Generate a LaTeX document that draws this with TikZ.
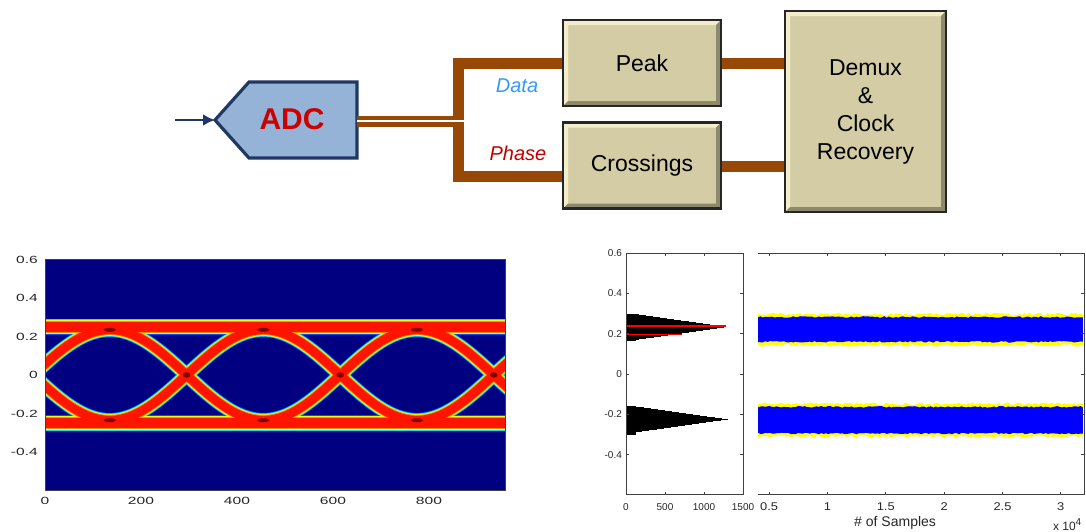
\documentclass[tikz,border=0pt]{standalone}
\usepackage{tikz}
\usetikzlibrary{positioning,arrows.meta,calc}
\usepackage{graphicx}
\usepackage{fontspec}
\setmainfont{Liberation Sans}

\definecolor{adcfill}{HTML}{95B3D7}
\definecolor{adcline}{HTML}{1F3864}
\definecolor{adcred}{HTML}{CC0000}
\definecolor{wirebrown}{HTML}{974806}
\definecolor{boxtan}{HTML}{D3CCA5}
\definecolor{bevlight}{HTML}{F3EDCB}
\definecolor{bevdark}{HTML}{8E896C}
\definecolor{datablue}{HTML}{3399FF}
\definecolor{phasered}{HTML}{C00000}
\definecolor{eyebg}{HTML}{000080}
\definecolor{jetb}{HTML}{0050FF}
\definecolor{jetc}{HTML}{00E8FF}
\definecolor{jety}{HTML}{E8FF10}
\definecolor{jeto}{HTML}{FF9000}
\definecolor{jetr}{HTML}{FF1400}
\definecolor{jetd}{HTML}{800000}
\definecolor{smpblue}{HTML}{0000FF}
\definecolor{smpyellow}{HTML}{FFFF00}

\newcommand{\wlab}[1]{\scalebox{1.5}[1]{#1}}
\newcommand{\slab}[1]{\scalebox{1.15}[1]{#1}}

\begin{document}
\begin{tikzpicture}[x=0.5pt, y=-0.5pt,
    blk/.style={draw=black!85, line width=1.2pt, fill=boxtan, align=center,
        font=\fontsize{11.5}{14}\selectfont,
        path picture={
            \fill[bevlight] (path picture bounding box.north west) -- (path picture bounding box.north east)
                -- ([shift={(-2.5pt,-2.5pt)}]path picture bounding box.north east)
                -- ([shift={(2.5pt,-2.5pt)}]path picture bounding box.north west)
                -- ([shift={(2.5pt,2.5pt)}]path picture bounding box.south west)
                -- (path picture bounding box.south west) -- cycle;
            \fill[bevdark] (path picture bounding box.south east) -- (path picture bounding box.south west)
                -- ([shift={(2.5pt,2.5pt)}]path picture bounding box.south west)
                -- ([shift={(-2.5pt,2.5pt)}]path picture bounding box.south east)
                -- ([shift={(-2.5pt,-2.5pt)}]path picture bounding box.north east)
                -- (path picture bounding box.north east) -- cycle;
        }},
    wire/.style={draw=wirebrown, line width=5.5pt},
    adcshape/.style={draw=adcline, fill=adcfill, line width=1.6pt, line join=miter},
    inarrow/.style={draw=adcline, line width=1.4pt, -{Latex[length=6pt,width=6pt]}},
    eyelab/.style={font=\fontsize{5.2}{6}\selectfont, text=black!85, inner sep=0.5pt},
    histlab/.style={font=\fontsize{5}{6}\selectfont, text=black!85, inner sep=0.5pt},
    axframe/.style={draw=black!75, line width=0.5pt}
    ]
    \useasboundingbox (0,0) rectangle (1086,531);

    % block diagram
    \coordinate (in) at (175,120);
    \coordinate (adctip) at (215,120);
    \coordinate (adcout) at (357,121);
    \coordinate (split) at (458.5,121);
    \draw[adcshape] (adctip) -- (249,82) -- (357,82) -- (357,158) -- (249,158) -- cycle;
    \node[font=\fontsize{15}{18}\selectfont\bfseries, text=adcred] (adc) at (292,119) {ADC};
    \draw[inarrow] (in) -- (adctip);

    \node[blk, minimum width=79pt, minimum height=43pt] (peak) at (642,63) {Peak};
    \node[blk, minimum width=79pt, minimum height=43pt] (cross) at (642,165.5) {Crossings};
    \node[blk, minimum width=80.5pt, minimum height=100.5pt] (demux) at (865.5,111.5) {Demux\\\&\\Clock\\Recovery};

    \draw[wire] (adcout) -- (split);
    \draw[wire] (split) |- (peak.west);
    \draw[wire] (split) |- ([yshift=-5.5pt]cross.west);
    \draw[white, line width=1pt] (adcout) -- ([xshift=2.8pt]split);
    \draw[wire] (peak.east) -- (peak.east -| demux.west);
    \draw[wire] ([yshift=-0.5pt]cross.east) -- ([yshift=-0.5pt]cross.east -| demux.west);

    \node[font=\fontsize{10}{12}\selectfont\itshape, text=datablue] (datalab) at (517,86) {Data};
    \node[font=\fontsize{10}{12}\selectfont\itshape, text=phasered] (phaselab) at (518,153) {Phase};

    % eye diagram
    \begin{scope}[shift={(45,375)}, xscale=0.48, yscale=-192.5]
        \begin{scope}
            \clip (0,-0.6) rectangle (960,0.6);
            \fill[eyebg] (0,-0.6) rectangle (960,0.6);
            \foreach \col/\lw in {jetb/8pt, jetc/7.4pt, jety/6.7pt, jeto/5.9pt, jetr/5pt} {
                \draw[draw=\col, line width=\lw] (-20,0.25) -- (980,0.25) (-20,-0.25) -- (980,-0.25);
                \foreach \st in {-185,135,455,775}
                    \draw[draw=\col, line width=\lw-0.6pt]
                        plot[domain=0:320, samples=41, smooth] ({\st+\x},{0.235*cos(0.5625*\x)})
                        plot[domain=0:320, samples=41, smooth] ({\st+\x},{-0.235*cos(0.5625*\x)});
            }
            \foreach \px/\py in {135/0.235, 455/0.235, 775/0.235, 135/-0.235, 455/-0.235, 775/-0.235}
                \fill[jetd] (\px,\py) ellipse [x radius=13, y radius=0.01];
            \foreach \px in {295,615,935}
                \fill[jetd] (\px,0) ellipse [x radius=8, y radius=0.014];
        \end{scope}
        \draw[axframe] (0,-0.6) rectangle (960,0.6);
        \foreach \tv [count=\i] in {0.6,0.4,0.2,0,-0.2,-0.4}
            \node[eyelab, anchor=east] (eyl\i) at (-12,\tv) {\wlab{\tv}};
        \foreach \tv [count=\i] in {0,200,400,600,800}
            \node[eyelab] (exl\i) at (\tv,-0.655) {\wlab{\tv}};
    \end{scope}

    % histograms
    \begin{scope}[shift={(626,374)}, xscale=0.078, yscale=-201.5]
        \foreach \k in {0,...,26} {
            \pgfmathsetmacro\hv{0.162+0.005*\k}
            \pgfmathsetmacro\hw{max(130,1300*(1-abs(\hv+0.0025-0.232)/0.072))}
            \fill[black] (0,\hv) rectangle (\hw,\hv+0.005);
        }
        \foreach \k in {0,...,28} {
            \pgfmathsetmacro\hv{-0.303+0.005*\k}
            \pgfmathsetmacro\hw{max(130,1310*(1-abs(\hv+0.0025+0.225)/0.072))}
            \fill[black] (0,\hv) rectangle (\hw,\hv+0.005);
        }
        \draw[red, line width=0.6pt] (0,0.238) -- (1280,0.238) (0,0.197) -- (720,0.197);
        \draw[axframe] (0,-0.6) rectangle (1500,0.6);
        \foreach \tv in {-0.4,-0.2,0,0.2,0.4}
            \draw[axframe] (0,\tv) -- (35,\tv) (1500,\tv) -- (1465,\tv);
        \foreach \th in {500,1000}
            \draw[axframe] (\th,-0.6) -- (\th,-0.585) (\th,0.6) -- (\th,0.585);
        \foreach \tv [count=\i] in {0.6,0.4,0.2,0,-0.2,-0.4}
            \node[histlab, anchor=east] (hyl\i) at (-35,\tv) {\tv};
        \foreach \th [count=\i] in {0,500,1000,1500}
            \node[histlab] (hxl\i) at (\th,-0.66) {\th};
    \end{scope}

    % samples
    \begin{scope}[shift={(710.7,374)}, xscale=116.7, yscale=-201.5]
        \pgfmathsetseed{11}
        \fill[smpyellow] plot[domain=0.406:3.19, samples=140] (\x,{0.297+0.007*rand})
            -- plot[domain=3.19:0.406, samples=140] (\x,{0.143+0.007*rand}) -- cycle;
        \fill[smpblue] plot[domain=0.406:3.19, samples=140] (\x,{0.283+0.004*rand})
            -- plot[domain=3.19:0.406, samples=140] (\x,{0.160+0.004*rand}) -- cycle;
        \fill[smpyellow] plot[domain=0.406:3.19, samples=140] (\x,{-0.148+0.007*rand})
            -- plot[domain=3.19:0.406, samples=140] (\x,{-0.309+0.007*rand}) -- cycle;
        \fill[smpblue] plot[domain=0.406:3.19, samples=140] (\x,{-0.163+0.004*rand})
            -- plot[domain=3.19:0.406, samples=140] (\x,{-0.295+0.004*rand}) -- cycle;
        \draw[axframe] (0.406,0.6) -- (3.2,0.6) -- (3.2,-0.6) -- (0.406,-0.6);
        \foreach \ts in {0.5,1,1.5,2,2.5,3}
            \draw[axframe] (\ts,-0.6) -- (\ts,-0.585) (\ts,0.6) -- (\ts,0.585);
        \foreach \tv in {-0.4,-0.2,0,0.2,0.4}
            \draw[axframe] (3.2,\tv) -- (3.174,\tv);
        \foreach \ts [count=\i] in {0.5,1,1.5,2,2.5,3}
            \node[histlab, font=\fontsize{5.6}{6}\selectfont] (sxl\i) at (\ts,-0.66) {\slab{\ts}};
        \node[font=\fontsize{7}{8}\selectfont, text=black!85] (sxtitle) at (1.58,-0.74) {\# of Samples};
        \node[font=\fontsize{6}{7}\selectfont, text=black!85, anchor=base west, inner sep=0pt] (sxexp) at (2.93,-0.775) {x 10\textsuperscript{4}};
    \end{scope}
\end{tikzpicture}
\end{document}
